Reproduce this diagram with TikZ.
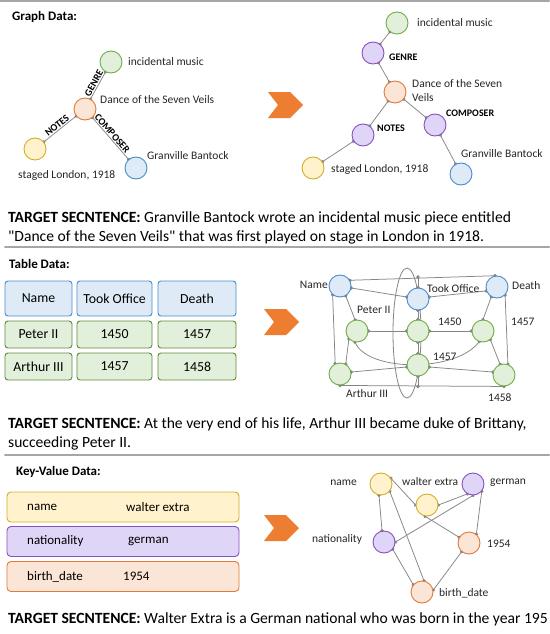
\documentclass[tikz,border=0pt]{standalone}
\usepackage{fontspec}
\setmainfont{Carlito}[Ligatures=TeXOff]
\usetikzlibrary{arrows.meta,backgrounds,positioning}

\definecolor{grnF}{HTML}{E2EFDA}
\definecolor{grnD}{HTML}{70AD47}
\definecolor{grnT}{HTML}{5E8C3E}
\definecolor{bluF}{HTML}{DEEBF7}
\definecolor{bluD}{HTML}{4A8BD0}
\definecolor{orgF}{HTML}{FBE5D6}
\definecolor{orgD}{HTML}{E07B39}
\definecolor{yelF}{HTML}{FFF2CC}
\definecolor{yelD}{HTML}{D4AE2A}
\definecolor{purF}{HTML}{DFD6F7}
\definecolor{purD}{HTML}{8A4FC0}
\definecolor{lnkC}{HTML}{858585}
\definecolor{sepC}{HTML}{A6A6A6}
\definecolor{arrC}{HTML}{ED7D31}

\tikzset{
  ent/.style={circle, minimum size=22pt, inner sep=0pt, line width=0.9pt},
  grn/.style={ent, draw=grnD, fill=grnF},
  blu/.style={ent, draw=bluD, fill=bluF},
  org/.style={ent, draw=orgD, fill=orgF},
  yel/.style={ent, draw=yelD, fill=yelF},
  pur/.style={ent, draw=purD, fill=purF},
  dotend/.tip={Circle[length=3.4pt, sep=-1.7pt]},
  lnk/.style={draw=lnkC, line width=0.75pt, arrows={dotend-dotend}},
  lbl/.style={font=\fontsize{11.5}{12.5}\selectfont, inner sep=0pt, text=black!85},
  rel/.style={font=\bfseries\fontsize{10}{11}\selectfont, inner sep=1pt},
  head/.style={font=\bfseries\fontsize{13}{14}\selectfont, inner sep=0pt, anchor=west},
  sent/.style={font=\fontsize{15.6}{17}\selectfont, inner sep=0pt, anchor=base west},
  cell/.style={rounded corners=3pt, line width=0.9pt, font=\fontsize{13.8}{15}\selectfont},
  hcell/.style={cell, draw=bluD, fill=bluF, minimum height=35pt},
  gcell/.style={cell, draw=grnT, fill=grnF, minimum height=27pt},
  kvbox/.style={rounded corners=4pt, line width=0.9pt, minimum width=232pt, minimum height=30pt},
  kvtxt/.style={font=\fontsize{13}{14}\selectfont, inner sep=0pt, anchor=west},
  sep/.style={draw=sepC, line width=2pt}
}

\newcommand{\chevron}[2]{%
  \fill[arrC] (#1,#2) ++(0,-13) -- ++(22,0) -- ++(13,13) -- ++(-13,13) -- ++(-22,0) -- ++(10,-13) -- cycle;}

\begin{document}
\begin{tikzpicture}[x=1pt,y=-1pt,line cap=round,line join=round]
\useasboundingbox (0,0) rectangle (549,634);
\begin{scope}[on background layer]
\fill[white] (0,0) rectangle (549,634);
\end{scope}

%% separators
\draw[sep] (0,1) -- (549,1);
\draw[sep] (5,247) -- (549,247);
\draw[sep] (5,455) -- (549,455);

%% ---------- graph data ----------
\node[head] (hg) at (12,17) {Graph Data:};

\node[grn] (gMus) at (111,62) {};
\node[org] (gDan) at (85,109) {};
\node[yel] (gSta) at (35,149) {};
\node[blu] (gGra) at (136,168) {};
\node[lbl, anchor=west] (gMusL) at (128,62) {incidental music};
\node[lbl, anchor=west] (gDanL) at (100,100) {Dance of the Seven Veils};
\node[lbl, anchor=west] (gGraL) at (147,156) {Granville Bantock};
\node[lbl, anchor=west] (gStaL) at (18,175) {staged London, 1918};

\begin{scope}[on background layer]
\draw[lnk] (gDan) -- node[rel, sloped, above] {GENRE} (gMus);
\draw[lnk] (gSta) -- node[rel, sloped, above] {NOTES} (gDan);
\draw[lnk] (gDan) -- node[rel, sloped, above, pos=0.45] {COMPOSER} (gGra);
\end{scope}

\chevron{268}{105}

\node[grn] (rMus) at (397,23) {};
\node[pur] (rGen) at (373,53) {};
\node[org] (rDan) at (395,92) {};
\node[pur] (rNot) at (363,135) {};
\node[pur] (rCom) at (435,125) {};
\node[yel] (rSta) at (313,168) {};
\node[blu] (rGra) at (461,174) {};
\node[lbl, anchor=west] (rMusL) at (417,23) {incidental music};
\node[rel, anchor=west, inner sep=0pt] (rGenL) at (389,57) {GENRE};
\node[lbl, anchor=north west, align=left] (rDanL) at (412,79) {Dance of the Seven\\[2pt]Veils};
\node[rel, anchor=west, inner sep=0pt] (rComL) at (446,113) {COMPOSER};
\node[rel, anchor=west, inner sep=0pt] (rNotL) at (377,128) {NOTES};
\node[lbl, anchor=west] (rStaL) at (331,169) {staged London, 1918};
\node[lbl, anchor=west] (rGraL) at (461,154) {Granville Bantock};

\begin{scope}[on background layer]
\draw[lnk] (rGen) -- (rMus);
\draw[lnk] (rGen) -- (rDan);
\draw[lnk] (rDan) -- (rNot);
\draw[lnk] (rNot) -- (rSta);
\draw[lnk] (rDan) -- (rCom);
\draw[lnk] (rCom) -- (rGra);
\end{scope}

\node[sent] (s1a) at (8,222) {\textbf{TARGET SECNTENCE:} Granville Bantock wrote an incidental music piece entitled};
\node[sent] (s1b) at (8,241) {"Dance of the Seven Veils" that was first played on stage in London in 1918.};

%% ---------- table data ----------
\node[head] (ht) at (9,264) {Table Data:};

\node[hcell, minimum width=67pt] (cName) at (38.5,298.5) {Name};
\node[hcell, minimum width=75pt] (cTook) at (114.5,298.5) {Took Office};
\node[hcell, minimum width=78pt] (cDeath) at (197,298.5) {Death};
\node[gcell, minimum width=67pt] (cPeter) at (38.5,334.5) {Peter II};
\node[gcell, minimum width=75pt] (c1450) at (114.5,334.5) {1450};
\node[gcell, minimum width=78pt] (c1457a) at (197,334.5) {1457};
\node[gcell, minimum width=67pt] (cArthur) at (38.5,366.5) {Arthur III};
\node[gcell, minimum width=75pt] (c1457b) at (114.5,366.5) {1457};
\node[gcell, minimum width=78pt] (c1458) at (197,366.5) {1458};

\chevron{264}{322}

\node[blu] (tName) at (340,286) {};
\node[blu] (tTook) at (418,299) {};
\node[blu] (tDeath) at (497,287) {};
\node[grn] (tPeter) at (357,331) {};
\node[grn] (t1450) at (418,331) {};
\node[grn] (t1457a) at (483,331) {};
\node[grn] (tArthur) at (340,374) {};
\node[grn] (t1457b) at (418,365) {};
\node[grn] (t1458) at (504,375) {};
\node[lbl, anchor=east] (tNameL) at (328,285) {Name};
\node[lbl, anchor=west] (tTookL) at (427,289) {Took Office};
\node[lbl, anchor=west] (tDeathL) at (512,286) {Death};
\node[lbl, anchor=west] (tPeterL) at (357,310) {Peter II};
\node[lbl, anchor=west] (t1450L) at (438,322) {1450};
\node[lbl, anchor=west] (t1457aL) at (511,322) {1457};
\node[lbl, anchor=west] (t1457bL) at (433,357) {1457};
\node[lbl, anchor=west] (tArthurL) at (346,394) {Arthur III};
\node[lbl, anchor=west] (t1458L) at (488,398) {1458};

\coordinate (tTop) at (418,277);
\coordinate (tBot) at (418,386.5);

\begin{scope}[on background layer]
\draw[lnkC, line width=0.8pt] (407,333) ellipse (14 and 65);
\draw[lnk] (tName.30) -- (tDeath.100);
\draw[lnk] (tName.-10) -- (tTook.170);
\draw[lnk] (tTook.10) -- (tDeath.200);
\draw[lnk] (tTook.north) -- (tTop);
\draw[lnk] (tName.-60) -- (tPeter.100);
\draw[lnk] (tName.-130) -- (tArthur.115);
\draw[lnk] (tTook) -- (t1450);
\draw[lnk] (tDeath.-120) -- (t1457a.90);
\draw[lnk] (tDeath.-45) -- (t1458.70);
\draw[lnk] (tPeter) -- (t1450);
\draw[lnk] (t1450) -- (t1457a);
\draw[lnk] (t1450) -- (t1457b);
\draw[lnk] (tPeter.-135) -- (tArthur.60);
\draw[lnk] (tPeter.-100) .. controls (370,372) and (455,372) .. (t1457a.-110);
\draw[lnk] (tArthur.10) -- (t1457b.190);
\draw[lnk] (t1457b.-10) -- (t1458.165);
\draw[lnk] (t1457a.-50) -- (t1458.110);
\draw[lnk] (tArthur.-90) -- (t1458.-90);
\draw[lnk] (t1457b.south) -- (tBot);
\end{scope}

\node[sent] (s2a) at (8,428) {\textbf{TARGET SECNTENCE:} At the very end of his life, Arthur III became duke of Brittany,};
\node[sent] (s2b) at (8,447) {succeeding Peter II.};

%% ---------- key-value data ----------
\node[head] (hk) at (16,472) {Key-Value Data:};

\node[kvbox, draw=yelD, fill=yelF] (kName) at (123,507) {};
\node[kvbox, draw=purD, fill=purF] (kNat) at (123,541.5) {};
\node[kvbox, draw=orgD, fill=orgF] (kBirth) at (123,576.5) {};
\node[kvtxt] (kNameK) at (27,507) {name};
\node[kvtxt] (kNameV) at (126,507) {walter extra};
\node[kvtxt] (kNatK) at (27,541.5) {nationality};
\node[kvtxt] (kNatV) at (128,541.5) {german};
\node[kvtxt] (kBirthK) at (27,576.5) {birth\_date};
\node[kvtxt] (kBirthV) at (123,576.5) {1954};

\chevron{264}{528}

\node[yel] (vName) at (381,484) {};
\node[yel] (vWal) at (427,505) {};
\node[pur] (vGer) at (473,484) {};
\node[pur] (vNat) at (384,542) {};
\node[org] (v1954) at (469,543) {};
\node[org] (vBirth) at (422,592) {};
\node[lbl, anchor=east] (vNameL) at (357,483) {name};
\node[lbl, anchor=west] (vWalL) at (402,482) {walter extra};
\node[lbl, anchor=west] (vGerL) at (490,483) {german};
\node[lbl, anchor=west] (vNatL) at (312,539) {nationality};
\node[lbl, anchor=west] (v1954L) at (487,544) {1954};
\node[lbl, anchor=west] (vBirthL) at (439,593) {birth\_date};

\begin{scope}[on background layer]
\draw[lnk] (vName.30) -- (vWal.180);
\draw[lnk] (vName.-100) -- (vNat.100);
\draw[lnk] (vName.-40) -- (vBirth.80);
\draw[lnk] (vWal.0) -- (vGer.-120);
\draw[lnk] (vWal.-100) -- (v1954.150);
\draw[lnk] (vGer.-90) -- (vNat.0);
\draw[lnk] (vGer.-40) -- (v1954.50);
\draw[lnk] (vNat.-40) -- (vBirth.140);
\draw[lnk] (v1954.-130) -- (vBirth.10);
\end{scope}

\node[sent] (s3a) at (8,623) {\textbf{TARGET SECNTENCE:} Walter Extra is a German national who was born in the year 195};
\end{tikzpicture}
\end{document}
